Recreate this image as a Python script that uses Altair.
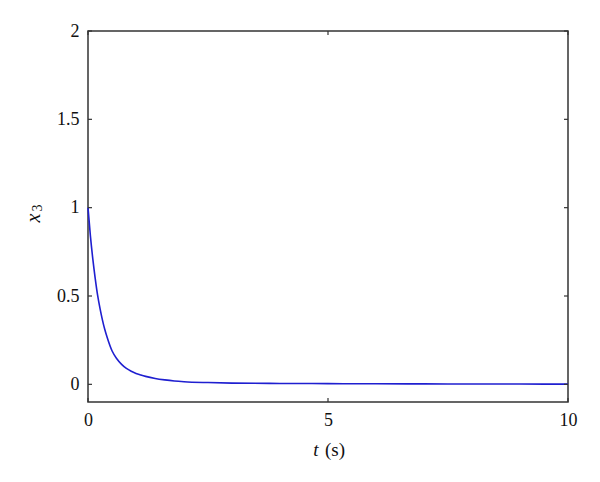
import altair as alt
import pandas as pd

t_vals = [0, 0.05, 0.1, 0.15, 0.2, 0.25, 0.3, 0.35, 0.4, 0.5, 0.6, 0.7, 0.8, 0.9, 1.0,
          1.1, 1.2, 1.4, 1.6, 1.8, 2.0, 2.5, 3.0, 4.0, 5.0, 6.0, 7.0, 8.0, 9.0, 10.0]
x3_vals = [1.0, 0.84, 0.71, 0.60, 0.505, 0.43, 0.365, 0.31, 0.265, 0.19, 0.145, 0.113,
           0.09, 0.074, 0.062, 0.053, 0.045, 0.033, 0.025, 0.019, 0.015, 0.010, 0.007,
           0.005, 0.004, 0.003, 0.0025, 0.002, 0.0015, 0.001]

x_ticks = [0, 5, 10]
y_ticks = [0, 0.5, 1, 1.5, 2]

W, H = 480, 371
FONT = "Liberation Serif"
INK = "#111111"

df = pd.DataFrame({"t": t_vals, "x3": x3_vals})
xt = pd.DataFrame({"v": x_ticks})
yt = pd.DataFrame({"v": y_ticks})

xs = alt.Scale(domain=[0, 10], nice=False, zero=False)
ys = alt.Scale(domain=[-0.1, 2], nice=False, zero=False)

line = alt.Chart(df).mark_line(color="#1f1fd0", strokeWidth=1.6, interpolate="monotone").encode(
    x=alt.X("t:Q", scale=xs,
            axis=alt.Axis(values=x_ticks, title=None, ticks=False, domain=False, grid=False,
                          labelFont=FONT, labelFontSize=18, labelColor=INK, labelPadding=9,
                          labelFlush=False)),
    y=alt.Y("x3:Q", scale=ys,
            axis=alt.Axis(values=y_ticks, title=None, ticks=False, domain=False, grid=False,
                          labelFont=FONT, labelFontSize=18, labelColor=INK, labelPadding=9,
                          format="~g")),
)

tick_style = dict(color="#333333", strokeWidth=1.2)
bottom_ticks = alt.Chart(xt).mark_rule(**tick_style).encode(
    x=alt.X("v:Q", scale=xs), y=alt.value(H), y2=alt.value(H - 4))
top_ticks = alt.Chart(xt).mark_rule(**tick_style).encode(
    x=alt.X("v:Q", scale=xs), y=alt.value(0), y2=alt.value(4))
left_ticks = alt.Chart(yt).mark_rule(**tick_style).encode(
    y=alt.Y("v:Q", scale=ys), x=alt.value(0), x2=alt.value(4))
right_ticks = alt.Chart(yt).mark_rule(**tick_style).encode(
    y=alt.Y("v:Q", scale=ys), x=alt.value(W), x2=alt.value(W - 4))

one = pd.DataFrame({"a": [0]})
t_title = alt.Chart(one).mark_text(text="t", font=FONT, fontSize=19, fontStyle="italic",
                                   color=INK, baseline="middle", align="center").encode(
    x=alt.value(228), y=alt.value(419))
s_title = alt.Chart(one).mark_text(text="(s)", font=FONT, fontSize=19,
                                   color=INK, baseline="middle", align="center").encode(
    x=alt.value(247), y=alt.value(419))
x_title = alt.Chart(one).mark_text(text="x", font=FONT, fontSize=20, fontStyle="italic",
                                   color=INK, baseline="middle", align="center", angle=270).encode(
    x=alt.value(-54), y=alt.value(187))
sub_title = alt.Chart(one).mark_text(text="3", font=FONT, fontSize=14,
                                     color=INK, baseline="middle", align="center", angle=270).encode(
    x=alt.value(-50), y=alt.value(177))

chart = alt.layer(line, bottom_ticks, top_ticks, left_ticks, right_ticks,
                  t_title, s_title, x_title, sub_title).properties(
    width=W, height=H,
    autosize=alt.AutoSizeParams(type="none"),
    padding={"left": 80, "top": 23, "right": 24, "bottom": 72},
).configure(
    background="white",
    view=alt.ViewConfig(stroke="#333333", strokeWidth=1.5),
)

chart.save("out.html", embed_options={"renderer": "svg", "actions": False})
